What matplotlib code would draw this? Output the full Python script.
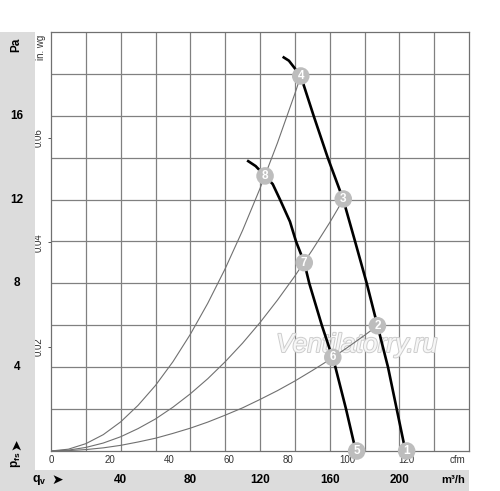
import matplotlib
matplotlib.use('Agg')
import matplotlib.pyplot as plt
import matplotlib.patheffects as pe
import matplotlib.transforms as mtransforms
from matplotlib.patches import Rectangle
import numpy as np

plt.rcParams['font.family'] = ['Liberation Sans', 'DejaVu Sans']

# ---------------- data (x in m3/h, y in Pa) ----------------
fan1_q = [133.0, 136.6, 143.4, 150.8, 158.9, 167.8, 174.6, 181.3, 187.4, 193.5, 198.5, 203.5]
fan1_p = [18.82, 18.63, 17.9, 16.0, 14.0, 12.0, 10.0, 8.0, 6.0, 4.0, 2.0, 0.0]

fan2_q = [112.6, 117.5, 122.9, 127.3, 131.5, 137.2, 140.7, 145.4, 148.3, 155.5, 161.6, 163.3, 169.4, 175.0]
fan2_p = [13.87, 13.6, 13.13, 12.74, 12.0, 10.95, 10.0, 9.0, 8.0, 6.0, 4.47, 4.0, 2.0, 0.0]

sysA_q = [0, 10, 20, 30, 40, 50, 60, 70, 80, 90, 100, 110, 120, 130, 140, 143.4]
sysA_p = [0, 0.087, 0.35, 0.78, 1.39, 2.18, 3.13, 4.26, 5.57, 7.05, 8.70, 10.53, 12.53, 14.70, 17.05, 17.9]

sysB_q = [0, 10, 20, 30, 40, 50, 60, 70, 80, 90, 100, 110, 120, 130, 140, 150, 160, 167.8]
sysB_p = [0, 0.043, 0.17, 0.38, 0.68, 1.07, 1.53, 2.09, 2.73, 3.45, 4.26, 5.15, 6.13, 7.20, 8.35, 9.59, 10.9, 12.0]

sysC_q = [0, 10, 20, 30, 40, 50, 60, 70, 80, 90, 100, 110, 120, 130, 140, 150, 160, 170, 180, 187.4]
sysC_p = [0, 0.017, 0.068, 0.15, 0.27, 0.43, 0.61, 0.84, 1.09, 1.38, 1.71, 2.06, 2.46, 2.88, 3.34, 3.84, 4.36, 4.93, 5.52, 5.98]

point_labels = ['1', '2', '3', '4', '5', '6', '7', '8']
point_q = [204.2, 187.4, 167.8, 143.4, 175.5, 161.8, 145.4, 122.9]
point_p = [0.0, 5.98, 12.03, 17.9, 0.0, 4.47, 8.99, 13.13]

cfm_ticks = [0, 20, 40, 60, 80, 100, 120]
m3h_ticks = [40, 80, 120, 160, 200]
pa_ticks = [4, 8, 12, 16]
inwg_ticks = [0.02, 0.04, 0.06]

CFM_TO_M3H = 1.699
INWG_TO_PA = 249.09

# ---------------- figure ----------------
W, H = 500, 491
fig = plt.figure(figsize=(W / 100, H / 100), dpi=100)
ax = fig.add_axes([51 / W, (H - 451) / H, (469 - 51) / W, (451 - 32) / H])

# grey bands
fig.patches.append(Rectangle((0, 0), 35 / W, (H - 32) / H, transform=fig.transFigure,
                             facecolor='#dcdcdc', edgecolor='none', zorder=0))
fig.patches.append(Rectangle((0, 0), 469 / W, 21 / H, transform=fig.transFigure,
                             facecolor='#dcdcdc', edgecolor='none', zorder=0))

ax.set_xlim(0, 240)
ax.set_ylim(0, 20)

grid_c = '#808080'
for xv in np.arange(20, 240, 20):
    ax.axvline(xv, color=grid_c, lw=0.9, zorder=1)
for yv in np.arange(2, 20, 2):
    ax.axhline(yv, color=grid_c, lw=0.9, zorder=1)
for s in ax.spines.values():
    s.set_color('#707070')
    s.set_linewidth(0.9)

# watermark
ax.text(0.731, 0.253, 'Ventilatorry.ru', transform=ax.transAxes, fontsize=19,
        style='italic', color='#f6f6f6', ha='center', va='center',
        zorder=2, path_effects=[pe.withStroke(linewidth=1.4, foreground='#cdcdcd')])

# system curves
for q, p in [(sysA_q, sysA_p), (sysB_q, sysB_p), (sysC_q, sysC_p)]:
    ax.plot(q, p, color='#707070', lw=0.8, zorder=3)

# fan curves
ax.plot(fan1_q, fan1_p, color='black', lw=1.9, zorder=4, solid_capstyle='butt',
        solid_joinstyle='round')
ax.plot(fan2_q, fan2_p, color='black', lw=1.9, zorder=4, solid_capstyle='butt',
        solid_joinstyle='round')

# operating points
ax.scatter(point_q, point_p, s=160, color='#bdbdbd', edgecolors='none', zorder=5, clip_on=False)
for lab, q, p in zip(point_labels, point_q, point_p):
    ax.text(q, p, lab, color='white', fontsize=8.5, fontweight='bold',
            ha='center', va='center', zorder=6, clip_on=False)

# x ticks (cfm)
ax.set_xticks([c * CFM_TO_M3H for c in cfm_ticks])
ax.set_xticklabels([str(c) for c in cfm_ticks], fontsize=7, color='#333333')
ax.tick_params(axis='x', length=0, pad=3)

# y ticks (in. wg)
ax.set_yticks([v * INWG_TO_PA for v in inwg_ticks])
ax.set_yticklabels(['%.2f' % v for v in inwg_ticks], fontsize=7, color='#333333',
                   rotation=90, va='center')
ax.tick_params(axis='y', length=2, width=0.7, pad=3, color='#555555')

# unit texts
fig.text(458 / W, 1 - 460 / H, 'cfm', fontsize=7, color='#333333', ha='center', va='center')
fig.text(41 / W, 1 - 47 / H, 'in. wg', fontsize=7, color='#333333', rotation=90,
         ha='center', va='center')
fig.text(16 / W, 1 - 45 / H, 'Pa', fontsize=8.5, fontweight='bold', rotation=90,
         ha='center', va='center')

blend_y = mtransforms.blended_transform_factory(fig.transFigure, ax.transData)
for v in pa_ticks:
    fig.text(17 / W, v, str(v), transform=blend_y, fontsize=8.5, fontweight='bold',
             ha='center', va='center')

blend_x = mtransforms.blended_transform_factory(ax.transData, fig.transFigure)
for v in m3h_ticks:
    fig.text(v, 1 - 480 / H, str(v), transform=blend_x, fontsize=8.5, fontweight='bold',
             ha='center', va='center')
fig.text(453 / W, 1 - 480 / H, 'm³/h', fontsize=8, fontweight='bold', ha='center', va='center')

# axis symbols with arrows
fig.text(16 / W, 1 - 460 / H, r'p$_{\mathregular{fs}}$', fontsize=8.5, fontweight='bold',
         rotation=90, ha='center', va='center')
fig.text(16 / W, 1 - 444 / H, '➤', fontsize=10, family=['DejaVu Sans'],
         rotation=90, ha='center', va='center')
fig.text(39 / W, 1 - 480 / H, r'q$_{\mathregular{v}}$', fontsize=9, fontweight='bold',
         ha='center', va='center')
fig.text(57 / W, 1 - 480 / H, '➤', fontsize=10, family=['DejaVu Sans'],
         ha='center', va='center')

fig.savefig('out.png', dpi=100)
